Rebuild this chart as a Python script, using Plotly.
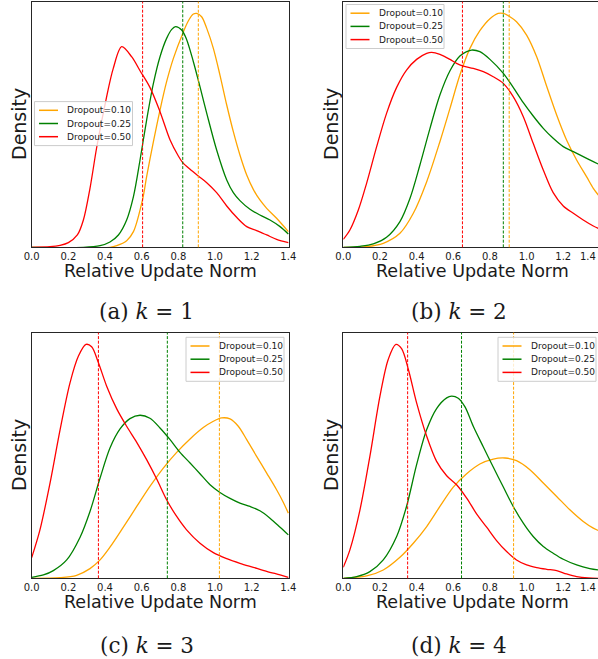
import plotly.graph_objects as go

# ---------------- data ----------------
dropout_labels = ["Dropout=0.10", "Dropout=0.25", "Dropout=0.50"]
captions = ["(a) <i>k</i> = 1", "(b) <i>k</i> = 2", "(c) <i>k</i> = 3", "(d) <i>k</i> = 4"]
x_tick_values = [0.0, 0.2, 0.4, 0.6, 0.8, 1.0, 1.2, 1.4]
x_tick_labels = ["0.0", "0.2", "0.4", "0.6", "0.8", "1.0", "1.2", "1.4"]
x_title = "Relative Update Norm"
y_title = "Density"

# panel (a) k = 1
a_x_010 = [0, 0.427, 0.464, 0.518, 0.555, 0.605, 0.627, 0.664, 0.7, 0.736, 0.773, 0.824, 0.855, 0.882, 0.9, 0.927, 0.955, 0.991, 1.027, 1.064, 1.1, 1.136, 1.173, 1.209, 1.245, 1.282, 1.336, 1.4]
a_y_010 = [0, 0, 0.02, 0.08, 0.188, 0.576, 0.848, 1.268, 1.648, 1.988, 2.268, 2.568, 2.72, 2.8, 2.808, 2.768, 2.628, 2.388, 2.068, 1.708, 1.388, 1.108, 0.868, 0.696, 0.568, 0.468, 0.348, 0.188]
a_x_025 = [0, 0.282, 0.373, 0.427, 0.473, 0.518, 0.555, 0.591, 0.627, 0.664, 0.7, 0.736, 0.764, 0.785, 0.818, 0.845, 0.882, 0.918, 0.955, 1.009, 1.064, 1.1, 1.136, 1.191, 1.245, 1.3, 1.355, 1.4]
a_y_025 = [0, 0, 0.02, 0.064, 0.148, 0.328, 0.608, 1.048, 1.528, 1.968, 2.288, 2.508, 2.616, 2.648, 2.608, 2.496, 2.228, 1.928, 1.608, 1.168, 0.808, 0.656, 0.56, 0.456, 0.388, 0.328, 0.248, 0.16]
a_x_050 = [0, 0.1, 0.155, 0.2, 0.249, 0.282, 0.318, 0.355, 0.405, 0.445, 0.491, 0.545, 0.591, 0.645, 0.7, 0.755, 0.8, 0.824, 0.864, 0.909, 0.955, 1.009, 1.064, 1.118, 1.173, 1.227, 1.282, 1.336, 1.4]
a_y_050 = [0, 0.008, 0.024, 0.056, 0.148, 0.328, 0.708, 1.204, 1.768, 2.148, 2.408, 2.288, 2.12, 1.92, 1.628, 1.288, 1.096, 1.016, 0.936, 0.856, 0.776, 0.656, 0.496, 0.36, 0.248, 0.2, 0.148, 0.096, 0.056]
a_means = [0.909, 0.824, 0.605]

# panel (b) k = 2
b_x_010 = [0, 0.127, 0.218, 0.309, 0.382, 0.455, 0.527, 0.582, 0.636, 0.691, 0.745, 0.8, 0.845, 0.873, 0.909, 0.945, 1.0, 1.055, 1.109, 1.164, 1.218, 1.273, 1.327, 1.364, 1.391]
b_y_010 = [0, 0.008, 0.048, 0.168, 0.408, 0.788, 1.268, 1.668, 2.068, 2.388, 2.6, 2.744, 2.808, 2.808, 2.768, 2.708, 2.548, 2.288, 1.936, 1.588, 1.288, 1.048, 0.848, 0.708, 0.628]
b_x_025 = [0, 0.091, 0.164, 0.236, 0.309, 0.364, 0.418, 0.473, 0.527, 0.582, 0.636, 0.673, 0.7, 0.745, 0.8, 0.873, 0.927, 0.982, 1.036, 1.091, 1.145, 1.2, 1.255, 1.309, 1.364, 1.391]
b_y_025 = [0, 0.012, 0.04, 0.12, 0.308, 0.588, 0.988, 1.428, 1.828, 2.12, 2.296, 2.348, 2.368, 2.348, 2.256, 2.088, 1.92, 1.736, 1.576, 1.428, 1.308, 1.208, 1.148, 1.088, 1.028, 1.0]
b_x_050 = [0, 0.036, 0.082, 0.127, 0.182, 0.236, 0.291, 0.345, 0.4, 0.455, 0.482, 0.527, 0.582, 0.618, 0.655, 0.709, 0.764, 0.818, 0.873, 0.927, 0.982, 1.036, 1.091, 1.145, 1.2, 1.255, 1.309, 1.364, 1.391]
b_y_050 = [0.096, 0.208, 0.448, 0.768, 1.208, 1.608, 1.92, 2.128, 2.256, 2.328, 2.34, 2.316, 2.256, 2.208, 2.176, 2.148, 2.108, 2.048, 1.968, 1.808, 1.568, 1.248, 0.928, 0.656, 0.496, 0.408, 0.328, 0.256, 0.228]
b_means = [0.905, 0.873, 0.65]

# panel (c) k = 3
c_x_010 = [0, 0.155, 0.245, 0.318, 0.373, 0.427, 0.5, 0.573, 0.645, 0.718, 0.791, 0.864, 0.936, 0.991, 1.036, 1.082, 1.127, 1.173, 1.227, 1.282, 1.336, 1.373, 1.4]
c_y_010 = [0, 0.008, 0.036, 0.116, 0.22, 0.372, 0.612, 0.86, 1.1, 1.32, 1.508, 1.668, 1.804, 1.88, 1.92, 1.908, 1.82, 1.66, 1.46, 1.26, 1.06, 0.908, 0.78]
c_x_025 = [0, 0.064, 0.118, 0.191, 0.264, 0.318, 0.373, 0.427, 0.482, 0.536, 0.591, 0.645, 0.7, 0.755, 0.809, 0.864, 0.918, 0.973, 1.027, 1.082, 1.136, 1.191, 1.245, 1.3, 1.355, 1.4]
c_y_025 = [0.012, 0.04, 0.092, 0.22, 0.492, 0.8, 1.2, 1.56, 1.788, 1.912, 1.952, 1.916, 1.8, 1.66, 1.508, 1.38, 1.252, 1.12, 1.028, 0.956, 0.9, 0.86, 0.808, 0.72, 0.612, 0.52]
c_x_050 = [0, 0.045, 0.1, 0.155, 0.209, 0.255, 0.296, 0.327, 0.364, 0.409, 0.464, 0.518, 0.573, 0.627, 0.682, 0.736, 0.791, 0.845, 0.918, 0.991, 1.064, 1.136, 1.209, 1.282, 1.355, 1.4]
c_y_050 = [0.248, 0.58, 1.14, 1.78, 2.34, 2.66, 2.8, 2.772, 2.58, 2.3, 2.028, 1.82, 1.628, 1.42, 1.188, 0.94, 0.74, 0.58, 0.42, 0.308, 0.236, 0.18, 0.132, 0.084, 0.04, 0.012]
c_means = [1.024, 0.74, 0.364]

# panel (d) k = 4
d_x_010 = [0, 0.127, 0.218, 0.309, 0.382, 0.455, 0.527, 0.6, 0.673, 0.745, 0.818, 0.882, 0.945, 1.018, 1.091, 1.164, 1.236, 1.309, 1.364, 1.391]
d_y_010 = [0, 0.028, 0.1, 0.252, 0.42, 0.62, 0.86, 1.092, 1.252, 1.368, 1.428, 1.44, 1.408, 1.3, 1.14, 0.98, 0.82, 0.68, 0.6, 0.572]
d_x_025 = [0, 0.073, 0.145, 0.218, 0.291, 0.345, 0.4, 0.455, 0.509, 0.564, 0.591, 0.627, 0.664, 0.709, 0.764, 0.818, 0.873, 0.927, 0.982, 1.036, 1.091, 1.145, 1.2, 1.273, 1.345, 1.391]
d_y_025 = [0, 0.02, 0.08, 0.22, 0.5, 0.86, 1.36, 1.78, 2.032, 2.16, 2.18, 2.156, 2.052, 1.82, 1.572, 1.332, 1.092, 0.86, 0.66, 0.5, 0.38, 0.3, 0.228, 0.16, 0.116, 0.1]
d_x_050 = [0, 0.036, 0.091, 0.145, 0.2, 0.245, 0.287, 0.318, 0.355, 0.4, 0.455, 0.509, 0.564, 0.618, 0.673, 0.727, 0.782, 0.836, 0.891, 0.945, 1.0, 1.055, 1.109, 1.164, 1.218, 1.273, 1.336, 1.391]
d_y_050 = [0.132, 0.34, 0.82, 1.46, 2.18, 2.62, 2.8, 2.748, 2.5, 2.1, 1.7, 1.4, 1.228, 1.12, 0.96, 0.772, 0.612, 0.452, 0.32, 0.22, 0.16, 0.128, 0.108, 0.092, 0.052, 0.02, 0.004, 0]
d_means = [0.929, 0.645, 0.351]

# ---------------- styling / layout ----------------
W, H = 598, 659
PX_PER_UNIT = 183.3
series_colors = ["orange", "green", "red"]
TXT = "#1a1a1a"
SPINE = "#262626"


def fx(px):
    return px / W


def fy(py):
    return 1 - py / H


panel_data = [
    ([a_x_010, a_x_025, a_x_050], [a_y_010, a_y_025, a_y_050], a_means),
    ([b_x_010, b_x_025, b_x_050], [b_y_010, b_y_025, b_y_050], b_means),
    ([c_x_010, c_x_025, c_x_050], [c_y_010, c_y_025, c_y_050], c_means),
    ([d_x_010, d_x_025, d_x_050], [d_y_010, d_y_025, d_y_050], d_means),
]

# geometry in pixels: axes box, legend box (left, top), caption centre
panel_geom = [
    dict(left=31.7, right=289.3, top=1.7, bottom=247.3, full=True, leg=(34.5, 101.6), cap=(146.5, 312), ylab=18.5),
    dict(left=343.3, right=598.0, top=1.7, bottom=247.3, full=False, leg=(346.0, 4.5), cap=(459.0, 312), ylab=330.5),
    dict(left=31.7, right=289.3, top=332.7, bottom=578.3, full=True, leg=(186.0, 337.3), cap=(146.5, 645), ylab=18.5),
    dict(left=343.3, right=598.0, top=332.7, bottom=578.3, full=False, leg=(498.0, 337.3), cap=(459.0, 645), ylab=330.5),
]
LEG_W, LEG_H = 98.0, 44.0
LEG_ROWS = [8.7, 21.9, 35.1]

fig = go.Figure()
layout = dict(
    template="none",
    width=W, height=H, margin=dict(l=0, r=0, t=0, b=0, pad=0, autoexpand=False),
    paper_bgcolor="white", plot_bgcolor="white", showlegend=False,
    font=dict(family="DejaVu Sans", color=TXT),
)
shapes, annotations = [], []

for i, ((xs, ys, means), g) in enumerate(zip(panel_data, panel_geom)):
    n = "" if i == 0 else str(i + 1)
    xr, yr = "x" + n, "y" + n
    xmax = (g["right"] - g["left"]) / PX_PER_UNIT
    ymax = 1.05 * max(max(y) for y in ys)

    for x, y, col in zip(xs, ys, series_colors):
        fig.add_trace(go.Scatter(
            x=x, y=y, mode="lines", xaxis=xr, yaxis=yr, hoverinfo="skip",
            line=dict(color=col, width=1.3, shape="spline", smoothing=0.9),
        ))

    layout["xaxis" + n] = dict(
        domain=[fx(g["left"]), fx(g["right"])], range=[0, xmax], anchor=yr, automargin=False,
        tickvals=x_tick_values, ticktext=x_tick_labels, ticks="",
        tickfont=dict(size=10, color=TXT), showgrid=False, zeroline=False,
        showline=True, linecolor=SPINE, linewidth=1, mirror=True,
    )
    layout["yaxis" + n] = dict(
        domain=[fy(g["bottom"]), fy(g["top"])], range=[0, ymax], anchor=xr, automargin=False,
        showticklabels=False, ticks="", showgrid=False, zeroline=False,
        showline=True, linecolor=SPINE, linewidth=1, mirror=g["full"],
    )

    # mean markers (dashed vertical lines)
    for m, col in zip(means, series_colors):
        shapes.append(dict(type="line", xref=xr, yref=yr + " domain", x0=m, x1=m, y0=0, y1=1,
                           line=dict(color=col, width=1, dash="3px,1.6px"), layer="above"))

    # last tick label (1.4) sits at the figure edge for the right column: keep it inside the page
    if not g["full"]:
        annotations.append(dict(xref="paper", yref="paper",
                                x=min(1.0, fx(g["left"] + x_tick_values[-1] * PX_PER_UNIT)), y=fy(g["bottom"] + 2),
                                text=x_tick_labels[-1], showarrow=False, xanchor="right", yanchor="top",
                                font=dict(size=10, color=TXT)))

    # legend
    lx, ly = g["leg"]
    shapes.append(dict(type="rect", xref="paper", yref="paper",
                       x0=fx(lx), x1=fx(lx + LEG_W), y0=fy(ly + LEG_H), y1=fy(ly),
                       fillcolor="rgba(255,255,255,0.8)", line=dict(color="#cccccc", width=1), layer="above"))
    for r, lab, col in zip(LEG_ROWS, dropout_labels, series_colors):
        shapes.append(dict(type="line", xref="paper", yref="paper",
                           x0=fx(lx + 4.5), x1=fx(lx + 23.5), y0=fy(ly + r), y1=fy(ly + r),
                           line=dict(color=col, width=1.5), layer="above"))
        annotations.append(dict(xref="paper", yref="paper", x=fx(lx + 30.5), y=fy(ly + r),
                                text=lab, showarrow=False, xanchor="left", yanchor="middle",
                                font=dict(size=9, color=TXT)))

    # axis titles
    xc = (g["left"] + g["right"]) / 2 if g["full"] else (g["left"] + g["left"] + 257.6) / 2
    annotations.append(dict(xref="paper", yref="paper", x=fx(xc), y=fy(g["bottom"] + 24),
                            text=x_title, showarrow=False, xanchor="center", yanchor="middle",
                            font=dict(size=17.5, color=TXT)))
    annotations.append(dict(xref="paper", yref="paper", x=fx(g["ylab"]), y=fy((g["top"] + g["bottom"]) / 2),
                            text=y_title, showarrow=False, textangle=-90, xanchor="center", yanchor="middle",
                            font=dict(size=19, color=TXT)))
    # caption
    cx, cy = g["cap"]
    annotations.append(dict(xref="paper", yref="paper", x=fx(cx), y=fy(cy),
                            text=captions[i], showarrow=False, xanchor="center", yanchor="middle",
                            font=dict(size=21.5, family="DejaVu Serif", color=TXT)))

layout["shapes"] = shapes
layout["annotations"] = annotations
fig.update_layout(**layout)
fig.write_html("out.html")
